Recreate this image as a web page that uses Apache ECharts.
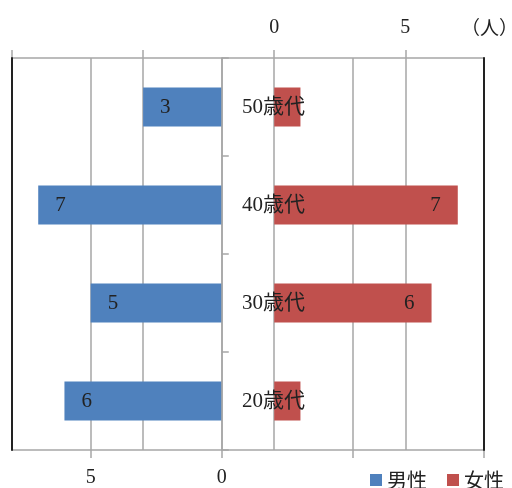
<!DOCTYPE html>
<html><head><meta charset="utf-8">
<script src="https://cdn.jsdelivr.net/npm/echarts@6/dist/echarts.min.js"></script>
<style>html,body{margin:0;padding:0;background:#fff}#c{width:512px;height:488px}</style>
</head><body><div id="c"></div>
<script>
var categories = ['20歳代', '30歳代', '40歳代', '50歳代'];
var maleValues = [6, 5, 7, 3];
var femaleValues = [1, 6, 7, 1];
var seriesNames = ['男性', '女性'];
var shownTicks = [0, 5];
var tickValues = [-10, -5, 0, 5];
var unitLabel = '（人）';

var serif = "'Liberation Serif','DejaVu Serif','Noto Sans CJK JP',serif";
var sans = "'Noto Sans CJK JP','Noto Sans',sans-serif";
var gridColor = '#A6A6A6';

function tickFmt(v) { return shownTicks.indexOf(v) >= 0 ? String(v) : ''; }

var edgeAxis = function (pos) {
  return {
    type: 'category', data: categories, position: pos,
    axisLine: {show: true, onZero: false, lineStyle: {color: '#222', width: 2}},
    axisTick: {show: false}, axisLabel: {show: false}, splitLine: {show: false}, z: 6
  };
};

var valueAxis = function (pos, inverse, margin) {
  return {
    type: 'value', position: pos, inverse: inverse, min: -10, max: 8, interval: 5,
    axisLine: {show: true, onZero: false, lineStyle: {color: gridColor, width: 1.5}},
    axisTick: {show: true, length: 8, customValues: tickValues, lineStyle: {color: gridColor, width: 1.5}},
    splitLine: {show: true, lineStyle: {color: gridColor, width: 1.5}},
    axisLabel: {customValues: shownTicks, formatter: tickFmt, margin: margin, fontFamily: serif, fontSize: 20, color: '#222'}
  };
};

var chart = echarts.init(document.getElementById('c'), null, {renderer: 'canvas'});
chart.setOption({
  animation: false,
  backgroundColor: '#fff',
  grid: {left: 12, right: 28, top: 58, bottom: 36},
  legend: {
    left: 365, top: 465, itemWidth: 12, itemHeight: 12, itemGap: 20, icon: 'rect',
    textStyle: {fontFamily: sans, fontSize: 20, color: '#222'},
    data: seriesNames
  },
  graphic: [{type: 'text', left: 461, top: 18, style: {text: unitLabel, font: '19px ' + sans, fill: '#222'}}],
  xAxis: [valueAxis('bottom', true, 18), valueAxis('top', false, 20)],
  yAxis: [{
    type: 'category', data: categories,
    axisLine: {show: true, onZero: true, onZeroAxisIndex: 0, lineStyle: {color: gridColor, width: 1.5}},
    axisTick: {show: true, inside: true, length: 7, lineStyle: {color: gridColor, width: 1.5}},
    axisLabel: {inside: true, margin: 230, fontFamily: serif, fontSize: 21, color: '#222'},
    z: 5
  }, edgeAxis('left'), edgeAxis('right')],
  series: [{
    name: seriesNames[0], type: 'bar', xAxisIndex: 0, yAxisIndex: 0, data: maleValues,
    barWidth: 39, barGap: '-100%',
    itemStyle: {color: '#4F81BD'},
    label: {show: true, position: 'insideLeft', distance: 17, fontFamily: serif, fontSize: 21, color: '#222'}
  }, {
    name: seriesNames[1], type: 'bar', xAxisIndex: 1, yAxisIndex: 0, data: femaleValues,
    barWidth: 39, barGap: '-100%',
    itemStyle: {color: '#C0504D'},
    label: {show: true, position: 'insideRight', distance: 17, fontFamily: serif, fontSize: 21, color: '#222',
      formatter: function (p) { return p.value > 1 ? String(p.value) : ''; }}
  }]
});
</script></body></html>
